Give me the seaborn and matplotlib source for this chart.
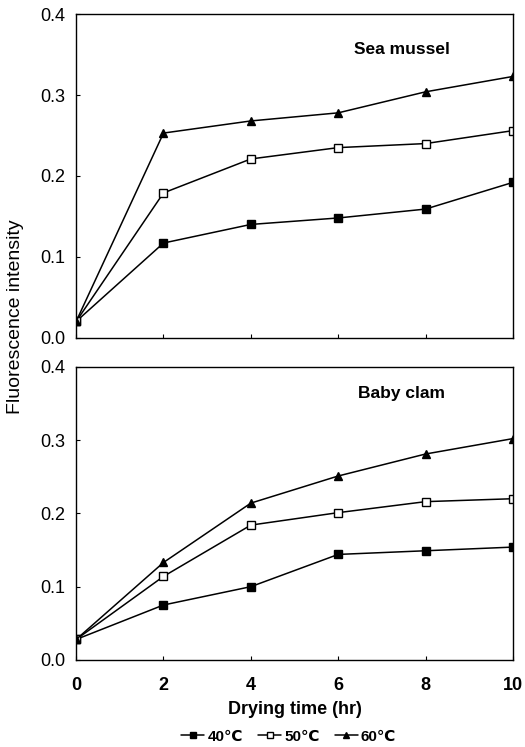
import pandas as pd
import matplotlib
matplotlib.use('Agg')
import matplotlib.pyplot as plt
import seaborn as sns

sns.set_style('ticks')
plt.rcParams['font.family'] = ['Liberation Sans', 'DejaVu Sans']
plt.rcParams['font.size'] = 12
plt.rcParams['text.color'] = 'black'
plt.rcParams['axes.labelcolor'] = 'black'
plt.rcParams['xtick.color'] = 'black'
plt.rcParams['ytick.color'] = 'black'

# drying time (hr)
hours = [0, 2, 4, 6, 8, 10]
temps = ['40\u2103', '50\u2103', '60\u2103']

# Sea mussel
mussel_40 = [0.020, 0.117, 0.140, 0.148, 0.159, 0.192]
mussel_50 = [0.020, 0.179, 0.221, 0.235, 0.240, 0.256]
mussel_60 = [0.020, 0.253, 0.268, 0.278, 0.304, 0.323]

# Baby clam
clam_40 = [0.028, 0.075, 0.100, 0.144, 0.149, 0.154]
clam_50 = [0.028, 0.114, 0.184, 0.201, 0.216, 0.220]
clam_60 = [0.028, 0.133, 0.214, 0.251, 0.281, 0.302]

styles = {
    '40\u2103': dict(marker='s', markerfacecolor='black'),
    '50\u2103': dict(marker='s', markerfacecolor='white'),
    '60\u2103': dict(marker='^', markerfacecolor='black'),
}

fig = plt.figure(figsize=(5.25, 7.47), dpi=100)
ax1 = fig.add_axes([0.145, 0.548, 0.832, 0.433])
ax2 = fig.add_axes([0.145, 0.1165, 0.832, 0.3925])

panels = [
    (ax1, [mussel_40, mussel_50, mussel_60], 'Sea mussel', 0.89),
    (ax2, [clam_40, clam_50, clam_60], 'Baby clam', 0.91),
]

for ax, series, title, ty in panels:
    for name, vals in zip(temps, series):
        sns.lineplot(x=hours, y=vals, ax=ax, color='black', linewidth=1.1,
                     markersize=5.5, markeredgecolor='black', markeredgewidth=1,
                     label=name, **styles[name])
    ax.set_xlim(0, 10)
    ax.set_ylim(0, 0.4)
    ax.set_yticks([0.0, 0.1, 0.2, 0.3, 0.4])
    ax.set_yticklabels(['0.0', '0.1', '0.2', '0.3', '0.4'])
    ax.set_xticks(hours)
    ax.tick_params(direction='in', length=3, labelsize=13)
    ax.tick_params(axis='y', pad=8)
    ax.tick_params(axis='x', pad=12)
    for sp in ax.spines.values():
        sp.set_linewidth(1.0)
        sp.set_color('black')
    ax.text(0.745, ty, title, transform=ax.transAxes, ha='center', va='center',
            fontsize=12.5, fontweight='bold')
    ax.get_legend().remove()
    ax.set_xlabel('')
    ax.set_ylabel('')

ax1.set_xticklabels([])
ax2.set_xticklabels([str(h) for h in hours], fontweight='bold')
ax2.set_xlabel('Drying time (hr)', fontsize=13, fontweight='bold', labelpad=5)

fig.text(0.03, 0.576, 'Fluorescence intensity', rotation=90, ha='center',
         va='center', fontsize=14)

handles, labels = ax1.get_legend_handles_labels()
fig.legend(handles, labels, loc='center', bbox_to_anchor=(0.55, 0.014), ncol=3,
           frameon=False, handlelength=1.5, columnspacing=1.0,
           handletextpad=0.2, markerscale=0.8,
           prop={'weight': 'bold', 'size': 11})

fig.savefig('out.png', dpi=100)
